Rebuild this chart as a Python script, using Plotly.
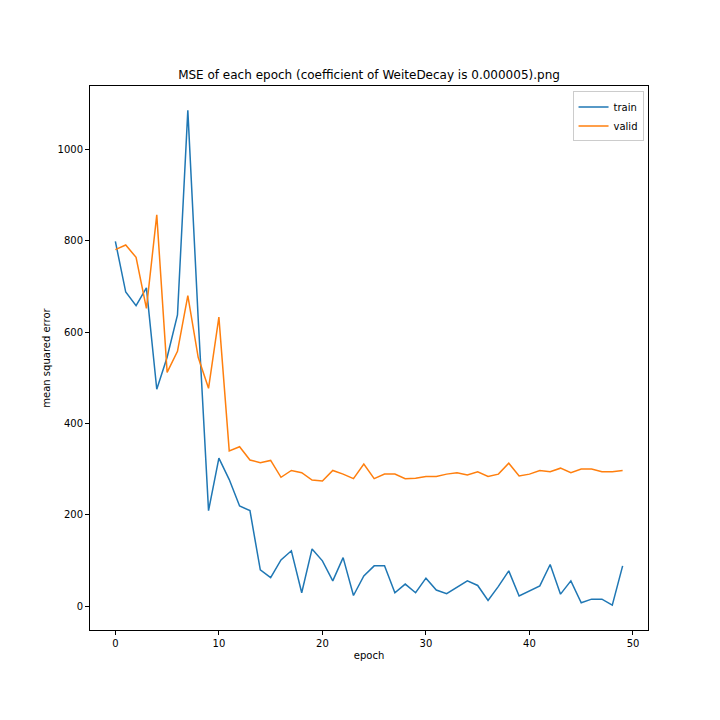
import plotly.graph_objects as go

epochs = list(range(50))
train = [799, 688, 658, 697, 475, 545, 638, 1086, 630, 209,
         324, 277, 219, 209, 79, 62, 101, 121, 29, 125,
         99, 55, 106, 23, 66, 88, 88, 29, 48, 29,
         61, 35, 27, 41, 55, 45, 12, 43, 77, 22,
         33, 44, 91, 26, 55, 7, 15, 15, 2, 88]
valid = [781, 791, 764, 652, 857, 512, 558, 680, 545, 477,
         633, 340, 349, 320, 314, 319, 282, 297, 292, 276,
         274, 297, 289, 279, 311, 279, 289, 289, 279, 280,
         284, 284, 289, 292, 287, 294, 284, 289, 313, 285,
         289, 297, 294, 302, 292, 300, 300, 294, 294, 297]

title = "MSE of each epoch (coefficient of WeiteDecay is 0.000005).png"
x_ticks = [0, 10, 20, 30, 40, 50]
y_ticks = [0, 200, 400, 600, 800, 1000]

fig = go.Figure()
fig.add_trace(go.Scatter(x=epochs, y=train, mode="lines", name="train",
                         line=dict(color="#1f77b4", width=1.5)))
fig.add_trace(go.Scatter(x=epochs, y=valid, mode="lines", name="valid",
                         line=dict(color="#ff7f0e", width=1.5)))

axis_common = dict(showgrid=False, zeroline=False, showline=True, linecolor="black",
                   linewidth=1, mirror=True, ticks="outside", ticklen=4,
                   tickwidth=1, tickcolor="black",
                   tickfont=dict(family="DejaVu Sans", size=10, color="black"))

# page is offset by 8px (body margin), so shift margins accordingly
L, T, R, B = 82, 78, 80, 98

fig.update_layout(
    width=720, height=720,
    margin=dict(l=L, r=R, t=T, b=B),
    paper_bgcolor="white", plot_bgcolor="white",
    font=dict(family="DejaVu Sans", size=10, color="black"),
    title=dict(text=title, x=(L + 720 - R) / 2 / 720, xanchor="center",
               y=1 - 67 / 720, yanchor="middle",
               font=dict(family="DejaVu Sans", size=12, color="black")),
    xaxis=dict(range=[-2.45, 51.45], tickvals=x_ticks,
               title=dict(text="epoch", font=dict(size=10), standoff=3),
               **axis_common),
    yaxis=dict(range=[-52.6, 1139.5], tickvals=y_ticks,
               title=dict(text="mean squared error", font=dict(size=10), standoff=5),
               **axis_common),
    legend=dict(x=0.992, y=0.99, xanchor="right", yanchor="top",
                bgcolor="white", bordercolor="#cccccc", borderwidth=1,
                font=dict(family="DejaVu Sans", size=10, color="black"),
                itemwidth=30, tracegroupgap=0),
    showlegend=True,
)

fig.write_html("out.html")
